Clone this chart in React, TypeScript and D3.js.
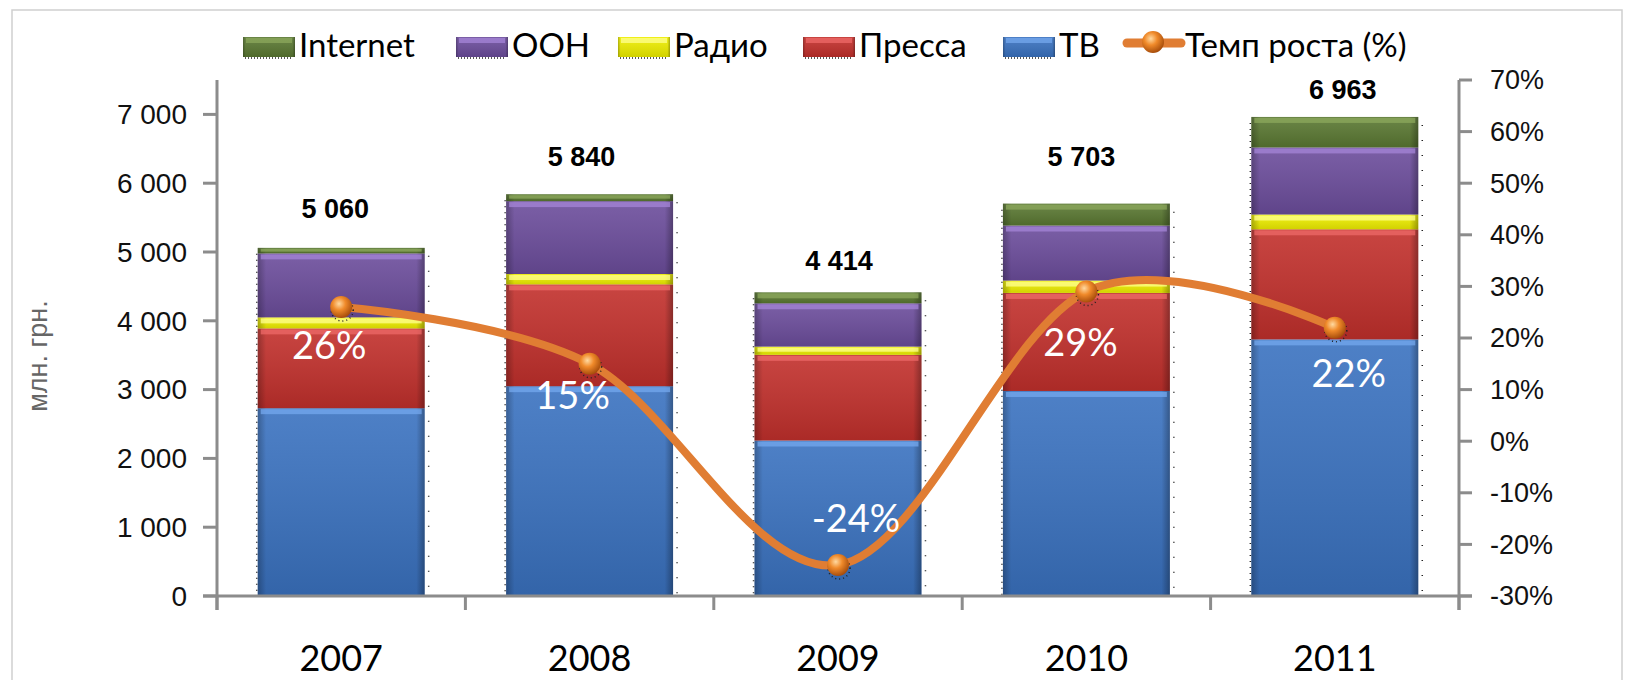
import { useEffect, useRef } from "react";
import * as d3 from "d3";

// data (млн. грн.)
const years = ["2007", "2008", "2009", "2010", "2011"];
const seriesNames = ["ТВ", "Пресса", "Радио", "ООН", "Internet"];
const tvValues = [2730, 3050, 2260, 2980, 3730];
const pressValues = [1160, 1480, 1245, 1425, 1600];
const radioValues = [160, 150, 120, 180, 215];
const oohValues = [930, 1060, 630, 800, 975];
const internetValues = [80, 100, 159, 318, 443];
const totals = [5060, 5840, 4414, 5703, 6963];
const growth = [0.26, 0.15, -0.24, 0.29, 0.22];
const leftTicks = [0, 1000, 2000, 3000, 4000, 5000, 6000, 7000];
const rightTicks = [-0.3, -0.2, -0.1, 0, 0.1, 0.2, 0.3, 0.4, 0.5, 0.6, 0.7];
const legendOrder = ["Internet", "ООН", "Радио", "Пресса", "ТВ"];
const lineName = "Темп роста (%)";

// hand placed labels in the original (offsets from bar top / marker)
const totalOffsets = [[-6, -30], [-8, -28], [1, -22], [-5, -38], [8, -18]];
const growthOffsets = [[-12, 52], [-17, 45], [18, -33], [-6, 64], [14, 59]];

const colors: Record<string, [string, string]> = {
  "ТВ": ["#3A72C0", "#74A8EE"],
  "Пресса": ["#C2302C", "#EE6A68"],
  "Радио": ["#EEEE00", "#FFFF90"],
  "ООН": ["#6C4D9C", "#A586D8"],
  "Internet": ["#5A7832", "#8CA85C"],
};

const W = 1634;
const H = 680;

export default function App() {
  const svgRef = useRef<SVGSVGElement | null>(null);

  useEffect(() => {
    const svg = d3.select(svgRef.current);
    svg.selectAll("*").remove();

    const valuesBySeries: Record<string, number[]> = {
      "ТВ": tvValues,
      "Пресса": pressValues,
      "Радио": radioValues,
      "ООН": oohValues,
      "Internet": internetValues,
    };
    const table = years.map((y, i) => {
      const row: any = { year: y };
      seriesNames.forEach(s => (row[s] = valuesBySeries[s][i]));
      return row;
    });
    const stacked = d3.stack<any>().keys(seriesNames)(table);

    const x = d3.scaleBand().domain(years).range([217, 1459]).paddingInner(0.328).paddingOuter(0.164);
    const yL = d3.scaleLinear().domain([0, 7500]).range([596, 80]);
    const yR = d3.scaleLinear().domain([-0.3, 0.7]).range([596, 80]);

    const fmt = d3.formatLocale({ decimal: ",", thousands: " ", grouping: [3], currency: ["", ""] }).format(",d");

    svg.append("rect").attr("width", W).attr("height", H).attr("fill", "#fff");
    svg.append("rect").attr("x", 12).attr("y", 10).attr("width", 1610).attr("height", 700)
      .attr("fill", "none").attr("stroke", "#cfcfcf").attr("stroke-width", 1.5);

    const defs = svg.append("defs");
    const side = defs.append("linearGradient").attr("id", "side").attr("x1", 0).attr("x2", 1).attr("y1", 0).attr("y2", 0);
    side.append("stop").attr("offset", "0%").attr("stop-color", "#000").attr("stop-opacity", 0.25);
    side.append("stop").attr("offset", "5%").attr("stop-color", "#000").attr("stop-opacity", 0);
    side.append("stop").attr("offset", "95%").attr("stop-color", "#000").attr("stop-opacity", 0);
    side.append("stop").attr("offset", "100%").attr("stop-color", "#000").attr("stop-opacity", 0.3);
    const vert = defs.append("linearGradient").attr("id", "vert").attr("x1", 0).attr("x2", 0).attr("y1", 0).attr("y2", 1);
    vert.append("stop").attr("offset", "0%").attr("stop-color", "#fff").attr("stop-opacity", 0.1);
    vert.append("stop").attr("offset", "100%").attr("stop-color", "#000").attr("stop-opacity", 0.12);
    const ball = defs.append("radialGradient").attr("id", "ball").attr("cx", "40%").attr("cy", "35%").attr("r", "65%");
    ball.append("stop").attr("offset", "0%").attr("stop-color", "#FFD9A0");
    ball.append("stop").attr("offset", "45%").attr("stop-color", "#F08A2A");
    ball.append("stop").attr("offset", "100%").attr("stop-color", "#A84E0C");

    const drawBlock = (g: any, bx: number, by: number, bw: number, bh: number, name: string) => {
      const [base, light] = colors[name];
      g.append("rect").attr("x", bx).attr("y", by).attr("width", bw).attr("height", bh).attr("fill", base);
      g.append("rect").attr("x", bx).attr("y", by).attr("width", bw).attr("height", bh).attr("fill", "url(#vert)");
      g.append("rect").attr("x", bx).attr("y", by).attr("width", bw).attr("height", bh).attr("fill", "url(#side)");
      const hh = Math.min(5, bh / 2);
      g.append("rect").attr("x", bx + 3).attr("y", by + 1).attr("width", Math.max(0, bw - 6)).attr("height", hh)
        .attr("fill", light).attr("opacity", 0.75);
    };

    // bars
    const bars = svg.append("g");
    stacked.forEach(layer => {
      layer.forEach((d, i) => {
        const bx = x(years[i])!;
        const y0 = yL(d[1]);
        const h = yL(d[0]) - yL(d[1]);
        drawBlock(bars, bx, y0, x.bandwidth(), h, layer.key);
      });
    });
    // dotted shadow edges
    years.forEach((yr, i) => {
      const bx = x(yr)!;
      const top = yL(totals[i]);
      bars.append("line").attr("x1", bx - 1).attr("x2", bx - 1).attr("y1", top + 6).attr("y2", 596)
        .attr("stroke", "#222").attr("stroke-width", 1.5).attr("stroke-dasharray", "1,5");
      bars.append("line").attr("x1", bx + x.bandwidth() + 4).attr("x2", bx + x.bandwidth() + 4).attr("y1", top + 8).attr("y2", 596)
        .attr("stroke", "#222").attr("stroke-width", 1.5).attr("stroke-dasharray", "1,14");
    });

    // axes
    const axisColor = "#8c8c8c";
    const ax = svg.append("g").attr("stroke", axisColor).attr("stroke-width", 3);
    ax.append("line").attr("x1", 217).attr("x2", 217).attr("y1", 80).attr("y2", 610);
    ax.append("line").attr("x1", 1459).attr("x2", 1459).attr("y1", 80).attr("y2", 610);
    ax.append("line").attr("x1", 203).attr("x2", 1472).attr("y1", 596).attr("y2", 596);
    leftTicks.forEach(t => {
      ax.append("line").attr("x1", 203).attr("x2", 217).attr("y1", yL(t)).attr("y2", yL(t));
    });
    rightTicks.forEach(t => {
      ax.append("line").attr("x1", 1459).attr("x2", 1472).attr("y1", yR(t)).attr("y2", yR(t));
    });
    const catEdges = years.map(y => x(y)! - x.step() * x.paddingInner() / 2).concat([1459]);
    catEdges.forEach(e => {
      ax.append("line").attr("x1", e).attr("x2", e).attr("y1", 596).attr("y2", 610);
    });

    svg.append("g").selectAll("text").data(leftTicks).enter().append("text")
      .attr("x", 187).attr("y", d => yL(d)).attr("dy", "0.35em").attr("text-anchor", "end")
      .style("font-family", "'Liberation Sans', Arial, sans-serif").style("font-size", "28px").attr("fill", "#111")
      .text(d => fmt(d));
    svg.append("g").selectAll("text").data(rightTicks).enter().append("text")
      .attr("x", 1490).attr("y", d => yR(d)).attr("dy", "0.35em")
      .style("font-family", "'Liberation Sans', Arial, sans-serif").style("font-size", "27px").attr("fill", "#111")
      .text(d => `${Math.round(d * 100)}%`);
    svg.append("text").attr("transform", "translate(47,356) rotate(-90)").attr("text-anchor", "middle")
      .style("font-family", "'Liberation Sans', Arial, sans-serif").style("font-size", "27px").attr("fill", "#666")
      .text("млн. грн.");
    svg.append("g").selectAll("text").data(years).enter().append("text")
      .attr("x", d => x(d)! + x.bandwidth() / 2).attr("y", 671).attr("text-anchor", "middle")
      .style("font-family", "Lato, sans-serif").style("font-size", "36px").attr("fill", "#000")
      .text(d => d);

    // growth line
    const cx = (i: number) => x(years[i])! + x.bandwidth() / 2;
    const line = d3.line<number>().x((d, i) => cx(i)).y(d => yR(d)).curve(d3.curveCardinal.tension(0));
    svg.append("path").attr("d", line(growth)!).attr("fill", "none")
      .attr("stroke", "#E07D33").attr("stroke-width", 8).attr("stroke-linecap", "round");
    growth.forEach((g, i) => {
      svg.append("circle").attr("cx", cx(i) + 1).attr("cy", yR(g) + 3).attr("r", 11)
        .attr("fill", "none").attr("stroke", "#222").attr("stroke-width", 1.5).attr("stroke-dasharray", "1,3");
      svg.append("circle").attr("cx", cx(i)).attr("cy", yR(g)).attr("r", 11).attr("fill", "url(#ball)");
    });
    svg.append("g").selectAll("text").data(growth).enter().append("text")
      .attr("x", (d, i) => cx(i) + growthOffsets[i][0]).attr("y", (d, i) => yR(d) + growthOffsets[i][1])
      .attr("text-anchor", "middle").style("font-family", "Lato, sans-serif").style("font-size", "38px")
      .attr("fill", "#fff").text(d => `${Math.round(d * 100)}%`);

    // totals
    svg.append("g").selectAll("text").data(totals).enter().append("text")
      .attr("x", (d, i) => cx(i) + totalOffsets[i][0]).attr("y", (d, i) => yL(d) + totalOffsets[i][1])
      .attr("text-anchor", "middle").style("font-family", "'Liberation Sans', Arial, sans-serif")
      .style("font-size", "27px").style("font-weight", "bold").attr("fill", "#000")
      .text(d => fmt(d));

    // legend
    const legendX = [243, 456, 618, 803, 1003];
    const lg = svg.append("g");
    legendOrder.forEach((name, i) => {
      drawBlock(lg, legendX[i], 37, 52, 20, name);
      lg.append("line").attr("x1", legendX[i] + 2).attr("x2", legendX[i] + 50).attr("y1", 58).attr("y2", 58)
        .attr("stroke", "#222").attr("stroke-width", 1.5).attr("stroke-dasharray", "1,2");
      lg.append("text").attr("x", legendX[i] + 56).attr("y", 57)
        .style("font-family", "Lato, sans-serif").style("font-size", "33px").attr("fill", "#000").text(name);
    });
    lg.append("line").attr("x1", 1127).attr("x2", 1181).attr("y1", 43).attr("y2", 43)
      .attr("stroke", "#E07D33").attr("stroke-width", 9).attr("stroke-linecap", "round");
    lg.append("circle").attr("cx", 1153).attr("cy", 42).attr("r", 11).attr("fill", "url(#ball)");
    lg.append("text").attr("x", 1185).attr("y", 57)
      .style("font-family", "Lato, sans-serif").style("font-size", "33px").attr("fill", "#000").text(lineName);
  }, []);

  return (
    <svg ref={svgRef} width={W} height={H} style={{ position: "absolute", left: 0, top: 0, display: "block" }} />
  );
}
